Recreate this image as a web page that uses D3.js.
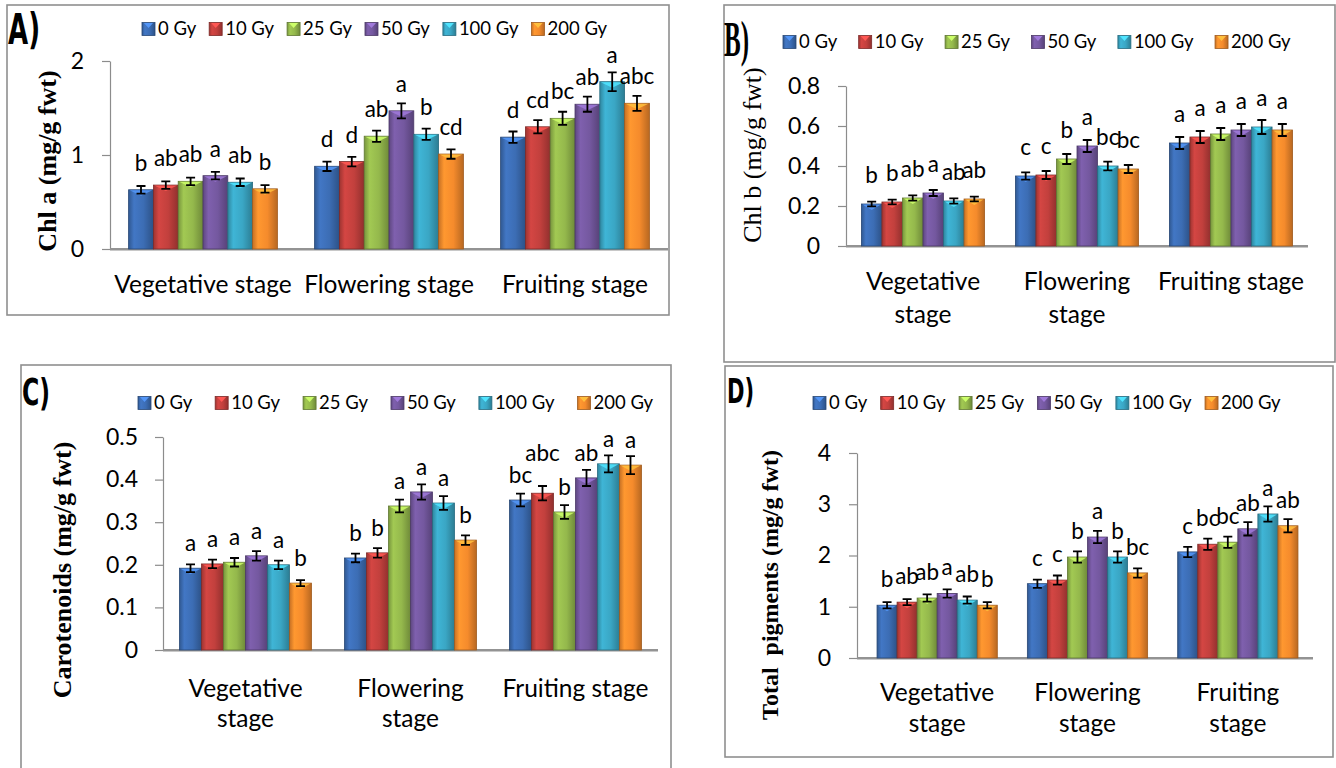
<!DOCTYPE html>
<html>
<head>
<meta charset="utf-8">
<script src="https://cdn.jsdelivr.net/npm/d3@7"></script>
<style>
  body { margin: 0; background: #fff; }
  svg { display: block; }
</style>
</head>
<body>
<div id="chart"></div>
<script>
// Doses (legend) and stages (x categories)
const doses = ["0 Gy", "10 Gy", "25 Gy", "50 Gy", "100 Gy", "200 Gy"];
const doseColors = ["#3c6db4", "#c2403d", "#94b84c", "#74589f", "#3aa6c4", "#f58b2c"];
const stages = ["Vegetative stage", "Flowering stage", "Fruiting stage"];

// A) Chl a
const chlA = [[0.63, 0.68, 0.72, 0.78, 0.71, 0.64],
              [0.88, 0.93, 1.20, 1.47, 1.22, 1.01],
              [1.19, 1.30, 1.39, 1.54, 1.78, 1.55]];
const chlAErr = [[0.04, 0.04, 0.04, 0.04, 0.04, 0.04],
                 [0.05, 0.05, 0.06, 0.08, 0.06, 0.05],
                 [0.06, 0.07, 0.07, 0.08, 0.10, 0.08]];
const chlALetters = [["b", "ab", "ab", "a", "ab", "b"],
                     ["d", "d", "ab", "a", "b", "cd"],
                     ["d", "cd", "bc", "ab", "a", "abc"]];

// B) Chl b
const chlB = [[0.21, 0.22, 0.24, 0.265, 0.225, 0.235],
              [0.35, 0.355, 0.435, 0.50, 0.40, 0.385],
              [0.515, 0.545, 0.56, 0.58, 0.595, 0.58]];
const chlBErr = [[0.012, 0.012, 0.013, 0.015, 0.013, 0.012],
                 [0.018, 0.02, 0.025, 0.03, 0.022, 0.02],
                 [0.03, 0.03, 0.03, 0.03, 0.035, 0.03]];
const chlBLetters = [["b", "b", "ab", "a", "ab", "ab"],
                     ["c", "c", "b", "a", "bc", "bc"],
                     ["a", "a", "a", "a", "a", "a"]];

// C) Carotenoids
const carot = [[0.192, 0.202, 0.206, 0.221, 0.200, 0.157],
               [0.216, 0.228, 0.338, 0.371, 0.345, 0.258],
               [0.352, 0.368, 0.324, 0.404, 0.437, 0.434]];
const carotErr = [[0.009, 0.01, 0.01, 0.011, 0.01, 0.007],
                  [0.01, 0.011, 0.015, 0.018, 0.016, 0.011],
                  [0.015, 0.017, 0.016, 0.019, 0.02, 0.021]];
const carotLetters = [["a", "a", "a", "a", "a", "b"],
                      ["b", "b", "a", "a", "a", "b"],
                      ["bc", "abc", "b", "ab", "a", "a"]];

// D) Total pigments
const total = [[1.03, 1.09, 1.17, 1.26, 1.13, 1.03],
               [1.45, 1.52, 1.97, 2.36, 1.97, 1.66],
               [2.07, 2.22, 2.26, 2.52, 2.81, 2.58]];
const totalErr = [[0.06, 0.06, 0.07, 0.08, 0.07, 0.06],
                  [0.08, 0.09, 0.11, 0.12, 0.11, 0.09],
                  [0.1, 0.11, 0.11, 0.13, 0.15, 0.13]];
const totalLetters = [["b", "ab", "ab", "a", "ab", "b"],
                      ["c", "c", "b", "a", "b", "bc"],
                      ["c", "bc", "bc", "ab", "a", "ab"]];

const SANS = "Lato, 'Open Sans', sans-serif";
const SERIF = "'Liberation Serif', 'DejaVu Serif', serif";

let width = 1336, height = 768;
const svg = d3.select("#chart").append("svg")
    .attr("width", width)
    .attr("height", height)
    .style("font-family", SANS);

// bar gradients, one per dose
const defs = svg.append("defs");
doseColors.forEach((c, j) => {
  const base = d3.color(c);
  const gr = defs.append("linearGradient").attr("id", "bar" + j)
      .attr("x1", "0%").attr("x2", "100%").attr("y1", "0%").attr("y2", "0%");
  gr.append("stop").attr("offset", "0%").attr("stop-color", base.darker(0.6));
  gr.append("stop").attr("offset", "22%").attr("stop-color", base.brighter(0.25));
  gr.append("stop").attr("offset", "60%").attr("stop-color", base);
  gr.append("stop").attr("offset", "100%").attr("stop-color", base.darker(0.8));
});

function drawPanel(p) {
  const g = svg.append("g");

  // frame
  g.append("rect")
    .attr("x", p.box[0]).attr("y", p.box[1])
    .attr("width", p.box[2]).attr("height", p.box[3])
    .attr("fill", "none").attr("stroke", "#8f8f8f").attr("stroke-width", 1.6);

  const x0 = d3.scaleBand().domain(stages).range([p.left, p.right])
      .paddingInner(0.2).paddingOuter(0.1);
  const x1 = d3.scaleBand().domain(doses).range([0, x0.bandwidth()]);
  const y = d3.scaleLinear().domain([0, p.max]).range([p.bottom, p.top]);

  // y axis
  const ax = g.append("g")
      .attr("transform", "translate(" + p.axisX + ",0)")
      .call(d3.axisLeft(y)
        .tickValues(d3.range(0, p.max + p.step / 2, p.step))
        .tickSize(8).tickSizeOuter(0)
        .tickPadding(p.pad)
        .tickFormat(p.fmt));
  ax.attr("font-family", SANS).attr("font-size", p.tickSize);
  ax.select(".domain").attr("stroke", "#8c8c8c").attr("stroke-width", 1.2);
  ax.selectAll(".tick line").attr("stroke", "#8c8c8c").attr("stroke-width", 1.2);
  ax.selectAll(".tick text").attr("fill", "#000");

  // baseline (category axis)
  g.append("line")
    .attr("x1", p.axisX).attr("x2", p.right)
    .attr("y1", y(0) + 1).attr("y2", y(0) + 1)
    .attr("stroke", "#c8c8c8").attr("stroke-width", 2);
  g.append("line")
    .attr("x1", p.axisX).attr("x2", p.right)
    .attr("y1", y(0)).attr("y2", y(0))
    .attr("stroke", "#939393").attr("stroke-width", 1.8);

  // flat rows
  const rows = [];
  stages.forEach((s, i) => {
    doses.forEach((d, j) => {
      rows.push({ s: s, d: d, i: i, j: j, v: p.values[i][j], e: p.errors[i][j], l: p.letters[i][j] });
    });
  });
  const bx = (r) => x0(r.s) + x1(r.d);
  const bw = x1.bandwidth();

  g.selectAll("rect.bar").data(rows).join("rect")
    .attr("class", "bar")
    .attr("x", bx)
    .attr("y", (r) => y(r.v))
    .attr("width", bw)
    .attr("height", (r) => y(0) - y(r.v))
    .attr("fill", (r) => "url(#bar" + r.j + ")")
    .attr("stroke", (r) => d3.color(doseColors[r.j]).darker(1.2))
    .attr("stroke-width", 0.8);

  // little bevel at the top of each bar
  g.selectAll("path.bevel").data(rows).join("path")
    .attr("class", "bevel")
    .attr("d", (r) => {
      const x = bx(r), t = y(r.v);
      return "M" + (x + 1) + "," + (t + 0.5) + "L" + (x + bw - 1) + "," + (t + 0.5) +
             "L" + (x + bw / 2) + "," + (t + 6) + "Z";
    })
    .attr("fill", (r) => d3.color(doseColors[r.j]).brighter(0.9))
    .attr("opacity", 0.85);

  // error bars
  g.selectAll("path.err").data(rows).join("path")
    .attr("class", "err")
    .attr("d", (r) => {
      const cx = bx(r) + bw / 2, t = y(r.v + r.e), b = y(r.v - r.e), c = 4.5;
      return "M" + (cx - c) + "," + t + "H" + (cx + c) +
             "M" + cx + "," + t + "V" + b +
             "M" + (cx - c) + "," + b + "H" + (cx + c);
    })
    .attr("stroke", "#000").attr("stroke-width", 1.8).attr("fill", "none");

  // significance letters (some were nudged up by hand in the original)
  const lift = p.lift || {};
  g.selectAll("text.sig").data(rows).join("text")
    .attr("class", "sig")
    .attr("x", (r) => bx(r) + bw / 2)
    .attr("y", (r) => y(r.v) - p.labOff - (lift[r.i + "," + r.j] || 0))
    .attr("text-anchor", "middle")
    .attr("font-size", p.labSize)
    .text((r) => r.l);

  // category labels
  stages.forEach((s, i) => {
    const t = g.append("text")
        .attr("text-anchor", "middle")
        .attr("font-size", p.catSize);
    p.catLines[i].forEach((line, k) => {
      t.append("tspan")
        .attr("x", x0(s) + x0.bandwidth() / 2)
        .attr("y", p.catY + k * p.catLH)
        .text(line);
    });
  });

  // legend
  let lx = p.legX;
  doses.forEach((d, j) => {
    const it = g.append("g").attr("transform", "translate(" + lx + "," + p.legY + ")");
    it.append("rect")
      .attr("x", 0).attr("y", -6.5).attr("width", 13).attr("height", 13)
      .attr("fill", "url(#bar" + j + ")")
      .attr("stroke", d3.color(doseColors[j]).darker(1.2)).attr("stroke-width", 0.8);
    it.append("path")
      .attr("d", "M2,-6L11,-6L6.5,-1Z")
      .attr("fill", d3.color(doseColors[j]).brighter(0.9));
    const t = it.append("text")
        .attr("x", 16).attr("dy", "0.35em")
        .attr("font-size", p.legSize)
        .text(d);
    lx += 16 + t.node().getComputedTextLength() + p.legGap;
  });

  // y title
  g.append("text")
    .attr("transform", "translate(" + p.titleX + "," + p.titleY + ") rotate(-90)")
    .attr("text-anchor", "middle")
    .attr("dy", "0.35em")
    .attr("font-family", SERIF)
    .attr("font-weight", p.titleBold ? "bold" : "normal")
    .attr("font-size", p.titleSize)
    .style("white-space", "pre")
    .text(p.title);

  // panel letter
  g.append("text")
    .attr("transform", "translate(" + p.tag[0] + "," + p.tag[1] + ") scale(" + p.tag[2] + ",1)")
    .attr("font-family", p.tagFont)
    .attr("font-weight", "bold")
    .attr("font-size", p.tagSize)
    .text(p.tagText);
}

const fmtInt = d3.format("d");
const fmtDec = (d) => (d === 0 ? "0" : d3.format(".1f")(d));

drawPanel({
  box: [7, 5, 662, 310],
  axisX: 110, left: 110, right: 668, top: 61, bottom: 249, max: 2, step: 1, fmt: fmtInt, pad: 18, tickSize: 23,
  values: chlA, errors: chlAErr, letters: chlALetters, labOff: 19, labSize: 22.5,
  catLines: [["Vegetative stage"], ["Flowering stage"], ["Fruiting stage"]], catY: 293, catLH: 30, catSize: 24.5,
  legX: 142, legY: 29, legGap: 13, legSize: 18.5,
  title: "Chl a (mg/g fwt)", titleBold: true, titleSize: 26, titleX: 47, titleY: 161,
  tagText: "A)", tag: [8, 44, 0.62], tagFont: "'DejaVu Sans', sans-serif", tagSize: 42
});

drawPanel({
  box: [724, 5, 611, 357],
  axisX: 846, left: 846, right: 1308, top: 86, bottom: 246, max: 0.8, step: 0.2, fmt: fmtDec, pad: 18, tickSize: 23,
  values: chlB, errors: chlBErr, letters: chlBLetters, labOff: 21, labSize: 22.5,
  catLines: [["Vegetative", "stage"], ["Flowering", "stage"], ["Fruiting stage"]], catY: 290, catLH: 33, catSize: 24.5,
  legX: 783, legY: 42, legGap: 21.5, legSize: 18.5,
  title: "Chl b (mg/g fwt)", titleBold: false, titleSize: 26, titleX: 752, titleY: 155,
  tagText: "B)", tag: [724, 56, 0.5], tagFont: SERIF, tagSize: 50
});

drawPanel({
  box: [21, 365, 650, 420],
  axisX: 163, left: 163, right: 658, top: 437, bottom: 650, max: 0.5, step: 0.1, fmt: fmtDec, pad: 17, tickSize: 23,
  values: carot, errors: carotErr, letters: carotLetters, labOff: 17, labSize: 22.5, lift: { "2,1": 15 },
  catLines: [["Vegetative", "stage"], ["Flowering", "stage"], ["Fruiting stage"]], catY: 697, catLH: 30, catSize: 24.5,
  legX: 138, legY: 403, legGap: 23, legSize: 18.5,
  title: "Carotenoids (mg/g fwt)", titleBold: true, titleSize: 26, titleX: 62, titleY: 570,
  tagText: "C)", tag: [22, 405, 0.62], tagFont: "'DejaVu Sans', sans-serif", tagSize: 38
});

drawPanel({
  box: [725, 366, 608, 391],
  axisX: 857, left: 862, right: 1313, top: 453, bottom: 658, max: 4, step: 1, fmt: fmtInt, pad: 18, tickSize: 23,
  values: total, errors: totalErr, letters: totalLetters, labOff: 18, labSize: 22.5,
  catLines: [["Vegetative", "stage"], ["Flowering", "stage"], ["Fruiting", "stage"]], catY: 701, catLH: 31, catSize: 24.5,
  legX: 813, legY: 403, legGap: 13.5, legSize: 18.5,
  title: "Total  pigments (mg/g fwt)", titleBold: true, titleSize: 24, titleX: 770, titleY: 585,
  tagText: "D)", tag: [727, 403, 0.62], tagFont: "'DejaVu Sans', sans-serif", tagSize: 34
});
</script>
</body>
</html>
